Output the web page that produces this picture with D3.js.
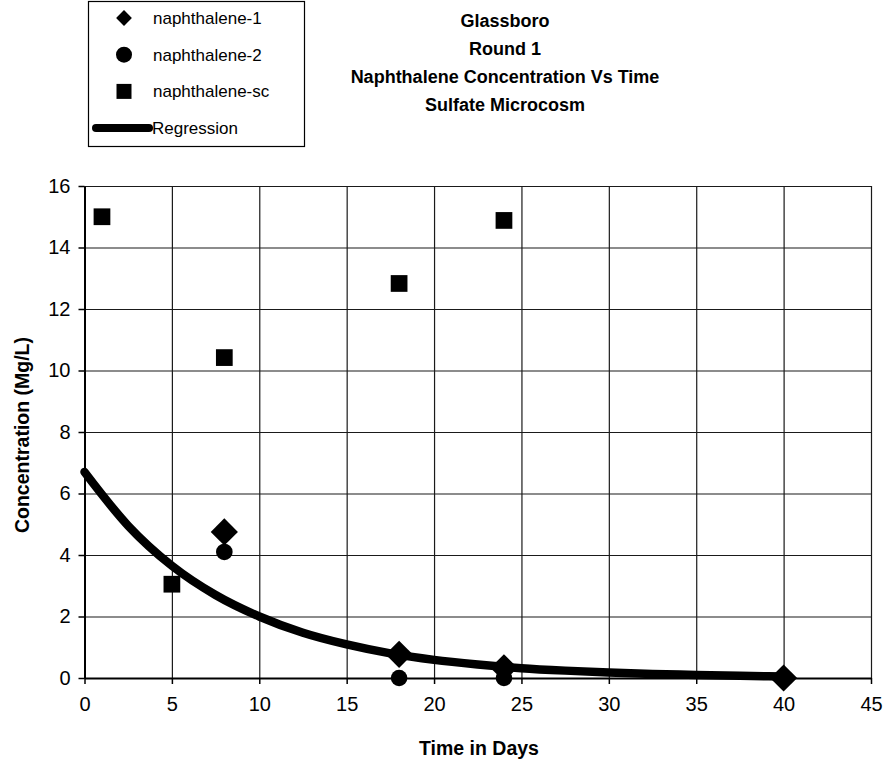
<!DOCTYPE html>
<html>
<head>
<meta charset="utf-8">
<script src="https://cdn.jsdelivr.net/npm/d3@7"></script>
<style>
  html, body { margin: 0; padding: 0; background: #fff; }
  svg { display: block; font-family: "Liberation Sans", Arial, sans-serif; }
  .tick text { font-size: 20px; fill: #000; }
  .title { font-size: 18px; font-weight: bold; }
  .axis-title { font-size: 19.5px; font-weight: bold; }
  .legend-text { font-size: 17px; }
</style>
</head>
<body>
<div id="chart"></div>
<script>
/* ── Glassboro naphthalene microcosm — scatter + regression ── */
(function () {
  "use strict";

  // ── Data ──────────────────────────────────────────
  const titleLines = ["Glassboro", "Round 1", "Naphthalene Concentration Vs Time", "Sulfate Microcosm"];
  const xTicks = [0, 5, 10, 15, 20, 25, 30, 35, 40, 45];
  const yTicks = [0, 2, 4, 6, 8, 10, 12, 14, 16];

  const naph1Days = [8, 18, 24, 40];
  const naph1Conc = [4.75, 0.77, 0.33, 0];

  const naph2Days = [8, 18, 24];
  const naph2Conc = [4.1, 0, 0];

  const naphScDays = [1, 5, 8, 18, 24];
  const naphScConc = [15, 3.05, 10.42, 12.83, 14.88];

  // regression curve
  const regDays = [0, 2.5, 5, 7.5, 10, 12.5, 15, 17.5, 20, 22.5, 25, 27.5, 30, 32.5, 35, 37.5, 40];
  const regConc = [6.7, 4.95, 3.65, 2.7, 2.0, 1.47, 1.09, 0.8, 0.59, 0.44, 0.32, 0.24, 0.18, 0.13, 0.1, 0.07, 0.05];

  const legendItems = [
    { label: "naphthalene-1", kind: "diamond" },
    { label: "naphthalene-2", kind: "circle" },
    { label: "naphthalene-sc", kind: "square" },
    { label: "Regression", kind: "line" },
  ];

  // ── Layout ────────────────────────────────────────
  const width = 891, height = 764;
  const PLOT = { left: 84.5, right: 871, top: 186, bottom: 678 };

  const svg = d3.select("#chart").append("svg")
    .attr("width", width).attr("height", height)
    .attr("viewBox", `0 0 ${width} ${height}`);

  const x = d3.scaleLinear().domain([0, 45]).range([PLOT.left, PLOT.right]);
  const y = d3.scaleLinear().domain([0, 16]).range([PLOT.bottom, PLOT.top]);

  // ── Grid ──────────────────────────────────────────
  const gGridX = svg.append("g")
    .attr("transform", `translate(0,${PLOT.bottom})`)
    .call(d3.axisBottom(x).tickValues(xTicks).tickSize(-(PLOT.bottom - PLOT.top)).tickFormat(""));
  const gGridY = svg.append("g")
    .attr("transform", `translate(${PLOT.left},0)`)
    .call(d3.axisLeft(y).tickValues(yTicks).tickSize(-(PLOT.right - PLOT.left)).tickFormat(""));
  [gGridX, gGridY].forEach(g => {
    g.select(".domain").remove();
    g.selectAll(".tick line").attr("stroke", "#1a1a1a").attr("stroke-width", 1.2);
  });

  // ── Axes ──────────────────────────────────────────
  const gx = svg.append("g")
    .attr("transform", `translate(0,${PLOT.bottom})`)
    .call(d3.axisBottom(x).tickValues(xTicks).tickSize(6).tickPadding(11).tickSizeOuter(0));
  const gy = svg.append("g")
    .attr("transform", `translate(${PLOT.left},0)`)
    .call(d3.axisLeft(y).tickValues(yTicks).tickSize(6).tickPadding(8).tickSizeOuter(0));
  [gx, gy].forEach(g => {
    g.select(".domain").attr("stroke", "#000").attr("stroke-width", 2);
    g.selectAll(".tick line").attr("stroke", "#000").attr("stroke-width", 1.5);
    g.selectAll(".tick text").attr("font-family", "Liberation Sans, Arial, sans-serif");
  });
  gx.selectAll(".tick text").attr("dy", "0.8em");

  // Axis titles
  svg.append("text")
    .attr("class", "axis-title")
    .attr("x", 479)
    .attr("y", 755)
    .attr("text-anchor", "middle")
    .text("Time in Days");

  svg.append("text")
    .attr("class", "axis-title")
    .attr("transform", "translate(29,435) rotate(-90)")
    .attr("text-anchor", "middle")
    .text("Concentration (Mg/L)");

  // ── Regression ────────────────────────────────────
  const regData = regDays.map((d, i) => [d, regConc[i]]);
  svg.append("path")
    .datum(regData)
    .attr("fill", "none")
    .attr("stroke", "#000")
    .attr("stroke-width", 8.5)
    .attr("stroke-linecap", "round")
    .attr("d", d3.line().x(d => x(d[0])).y(d => y(d[1])).curve(d3.curveMonotoneX));

  // ── Markers ───────────────────────────────────────
  const diamond = d3.symbol().type(d3.symbolSquare).size(370);
  const square = d3.symbol().type(d3.symbolSquare).size(280);

  svg.append("g").selectAll("path")
    .data(naph1Days.map((d, i) => [d, naph1Conc[i]]))
    .join("path")
    .attr("d", diamond)
    .attr("fill", "#000")
    .attr("transform", d => `translate(${x(d[0])},${y(d[1])}) rotate(45)`);

  svg.append("g").selectAll("circle")
    .data(naph2Days.map((d, i) => [d, naph2Conc[i]]))
    .join("circle")
    .attr("cx", d => x(d[0]))
    .attr("cy", d => y(d[1]))
    .attr("r", 8.3)
    .attr("fill", "#000");

  svg.append("g").selectAll("path")
    .data(naphScDays.map((d, i) => [d, naphScConc[i]]))
    .join("path")
    .attr("d", square)
    .attr("fill", "#000")
    .attr("transform", d => `translate(${x(d[0])},${y(d[1])})`);

  // ── Title ─────────────────────────────────────────
  svg.append("g").selectAll("text")
    .data(titleLines)
    .join("text")
    .attr("class", "title")
    .attr("x", 505)
    .attr("y", (d, i) => 26.5 + i * 28)
    .attr("text-anchor", "middle")
    .text(d => d);

  // ── Legend ────────────────────────────────────────
  const gLeg = svg.append("g");
  gLeg.append("rect")
    .attr("x", 88.5).attr("y", 1.5)
    .attr("width", 216).attr("height", 145)
    .attr("fill", "#fff").attr("stroke", "#000").attr("stroke-width", 1.2);

  const row = gLeg.selectAll("g.row")
    .data(legendItems)
    .join("g")
    .attr("class", "row")
    .attr("transform", (d, i) => `translate(0,${18 + i * 36.7})`);

  row.each(function (d) {
    const g = d3.select(this);
    if (d.kind === "diamond") {
      g.append("path").attr("d", d3.symbol().type(d3.symbolSquare).size(125)())
        .attr("transform", "translate(124,0) rotate(45)").attr("fill", "#000");
    } else if (d.kind === "circle") {
      g.append("circle").attr("cx", 124).attr("cy", 0).attr("r", 8).attr("fill", "#000");
    } else if (d.kind === "square") {
      g.append("path").attr("d", d3.symbol().type(d3.symbolSquare).size(225)())
        .attr("transform", "translate(124,0)").attr("fill", "#000");
    } else {
      g.append("line").attr("x1", 96).attr("x2", 149).attr("y1", 0).attr("y2", 0)
        .attr("stroke", "#000").attr("stroke-width", 8).attr("stroke-linecap", "round");
    }
    g.append("text")
      .attr("class", "legend-text")
      .attr("x", d.kind === "line" ? 152 : 153)
      .attr("y", 0)
      .attr("dy", "0.35em")
      .text(d.label);
  });
})();
</script>
</body>
</html>
